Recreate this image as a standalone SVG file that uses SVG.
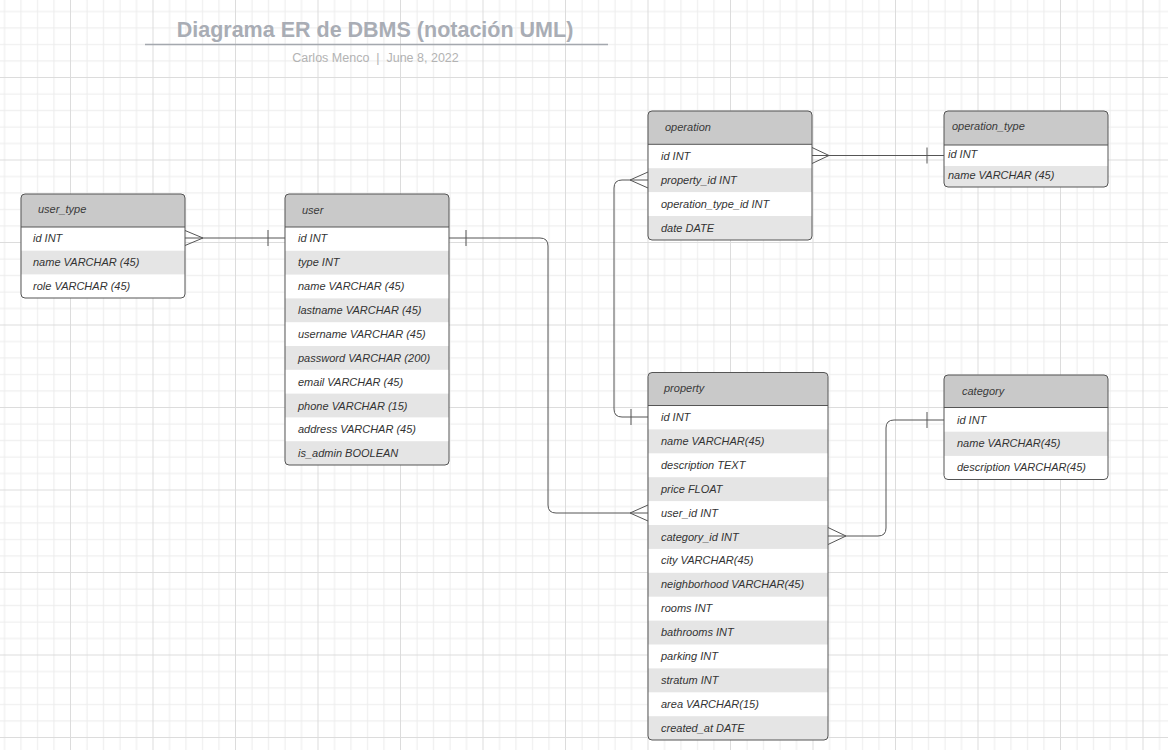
<svg xmlns="http://www.w3.org/2000/svg" width="1168" height="750" viewBox="0 0 1168 750">
<style>
.hdr{fill:#c9c9c9}
.sh{fill:#e5e5e5}
.box{fill:none;stroke:#555;stroke-width:1}
.hl{stroke:#555;stroke-width:1}
text{font-family:"Liberation Sans",Arial,sans-serif}
.t{font-size:11px;font-style:italic;fill:#333}
.h{font-size:11px;font-style:italic;fill:#3a3a3a}
.c{fill:none;stroke:#555;stroke-width:1}
</style>
<defs>
<pattern id="grid" patternUnits="userSpaceOnUse" x="70" y="77" width="82.5" height="82.5">
<rect x="16.5" y="0" width="1" height="82.5" fill="#ececec"/>
<rect x="33" y="0" width="1" height="82.5" fill="#ececec"/>
<rect x="49.5" y="0" width="1" height="82.5" fill="#ececec"/>
<rect x="66" y="0" width="1" height="82.5" fill="#ececec"/>
<rect x="0" y="16.5" width="82.5" height="1" fill="#ececec"/>
<rect x="0" y="33" width="82.5" height="1" fill="#ececec"/>
<rect x="0" y="49.5" width="82.5" height="1" fill="#ececec"/>
<rect x="0" y="66" width="82.5" height="1" fill="#ececec"/>
<rect x="0" y="0" width="1" height="82.5" fill="#dcdcdc"/>
<rect x="0" y="0" width="82.5" height="1" fill="#dcdcdc"/>
</pattern>
<clipPath id="cUT"><rect x="21" y="194" width="164" height="104" rx="4"/></clipPath>
<clipPath id="cU"><rect x="285" y="194" width="164" height="271" rx="4"/></clipPath>
<clipPath id="cO"><rect x="648" y="111" width="164" height="129" rx="4"/></clipPath>
<clipPath id="cOT"><rect x="944" y="111" width="164" height="76" rx="4"/></clipPath>
<clipPath id="cC"><rect x="944" y="375" width="164" height="104.5" rx="4"/></clipPath>
<clipPath id="cP"><rect x="648" y="372.5" width="180" height="367.5" rx="4"/></clipPath>
</defs>
<rect width="1168" height="750" fill="#fff"/>
<rect width="1168" height="750" fill="url(#grid)"/>

<g id="title">
<text x="375" y="37" text-anchor="middle" font-size="21.5" font-weight="bold" fill="#a9adb5">Diagrama ER de DBMS (notación UML)</text>
<line x1="145" y1="44.5" x2="608" y2="44.5" stroke="#a4a8ae" stroke-width="1.5"/>
<text x="375.5" y="62" text-anchor="middle" font-size="12.5" fill="#b3b3b3" style="white-space:pre" xml:space="preserve">Carlos Menco  |  June 8, 2022</text>
</g>

<g id="connectors">
<path class="c" d="M185,238 H285 M185,230.5 L203,238 L185,245.5 M268,230 V246"/>
<path class="c" d="M449,238 H540 Q548,238 548,246 V505 Q548,513 556,513 H648 M466,230 V246 M648,505 L630,513 L648,521"/>
<path class="c" d="M648,180 H622 Q614,180 614,188 V409 Q614,417 622,417 H648 M648,172 L630,180 L648,188 M631,409 V425"/>
<path class="c" d="M812,155.5 H944 M812,147.5 L829,155.5 L812,163.5 M927,147.5 V163.5"/>
<path class="c" d="M828,536 H878 Q886,536 886,528 V428 Q886,420 894,420 H944 M828,527.5 L846,536 L828,544.5 M927,412 V428"/>
</g>

<g id="user_type">
<g clip-path="url(#cUT)">
<rect x="21" y="194" width="164" height="104" fill="#fff"/>
<rect class="hdr" x="21" y="194" width="164" height="33"/>
<rect class="sh" x="21" y="250.7" width="164" height="23.7"/>
</g>
<line class="hl" x1="21" y1="227" x2="185" y2="227"/>
<rect class="box" x="21" y="194" width="164" height="104" rx="4"/>
<text class="h" x="38" y="213">user_type</text>
<text class="t" x="33" y="242">id INT</text>
<text class="t" x="33" y="266">name VARCHAR (45)</text>
<text class="t" x="33" y="290">role VARCHAR (45)</text>
</g>

<g id="user">
<g clip-path="url(#cU)">
<rect x="285" y="194" width="164" height="271" fill="#fff"/>
<rect class="hdr" x="285" y="194" width="164" height="33"/>
<rect class="sh" x="285" y="250.8" width="164" height="23.8"/>
<rect class="sh" x="285" y="298.4" width="164" height="23.8"/>
<rect class="sh" x="285" y="346" width="164" height="23.8"/>
<rect class="sh" x="285" y="393.6" width="164" height="23.8"/>
<rect class="sh" x="285" y="441.2" width="164" height="23.8"/>
</g>
<line class="hl" x1="285" y1="227" x2="449" y2="227"/>
<rect class="box" x="285" y="194" width="164" height="271" rx="4"/>
<text class="h" x="302" y="214">user</text>
<text class="t" x="298" y="242">id INT</text>
<text class="t" x="298" y="266">type INT</text>
<text class="t" x="298" y="290">name VARCHAR (45)</text>
<text class="t" x="298" y="314">lastname VARCHAR (45)</text>
<text class="t" x="298" y="338">username VARCHAR (45)</text>
<text class="t" x="298" y="362">password VARCHAR (200)</text>
<text class="t" x="298" y="386">email VARCHAR (45)</text>
<text class="t" x="298" y="410">phone VARCHAR (15)</text>
<text class="t" x="298" y="433">address VARCHAR (45)</text>
<text class="t" x="298" y="457">is_admin BOOLEAN</text>
</g>

<g id="operation">
<g clip-path="url(#cO)">
<rect x="648" y="111" width="164" height="129" fill="#fff"/>
<rect class="hdr" x="648" y="111" width="164" height="33.3"/>
<rect class="sh" x="648" y="168.2" width="164" height="23.9"/>
<rect class="sh" x="648" y="216" width="164" height="24"/>
</g>
<line class="hl" x1="648" y1="144.3" x2="812" y2="144.3"/>
<rect class="box" x="648" y="111" width="164" height="129" rx="4"/>
<text class="h" x="665" y="131">operation</text>
<text class="t" x="661" y="160">id INT</text>
<text class="t" x="661" y="184">property_id INT</text>
<text class="t" x="661" y="208">operation_type_id INT</text>
<text class="t" x="661" y="232">date DATE</text>
</g>

<g id="operation_type">
<g clip-path="url(#cOT)">
<rect x="944" y="111" width="164" height="76" fill="#fff"/>
<rect class="hdr" x="944" y="111" width="164" height="34"/>
<rect class="sh" x="944" y="166" width="164" height="21"/>
</g>
<line class="hl" x1="944" y1="145" x2="1108" y2="145"/>
<rect class="box" x="944" y="111" width="164" height="76" rx="4"/>
<text class="h" x="952" y="130">operation_type</text>
<text class="t" x="948" y="158">id INT</text>
<text class="t" x="948" y="179">name VARCHAR (45)</text>
</g>

<g id="category">
<g clip-path="url(#cC)">
<rect x="944" y="375" width="164" height="104.5" fill="#fff"/>
<rect class="hdr" x="944" y="375" width="164" height="32.5"/>
<rect class="sh" x="944" y="431.7" width="164" height="24.2"/>
</g>
<line class="hl" x1="944" y1="407.5" x2="1108" y2="407.5"/>
<rect class="box" x="944" y="375" width="164" height="104.5" rx="4"/>
<text class="h" x="962" y="395">category</text>
<text class="t" x="957" y="424">id INT</text>
<text class="t" x="957" y="447">name VARCHAR(45)</text>
<text class="t" x="957" y="471">description VARCHAR(45)</text>
</g>

<g id="property">
<g clip-path="url(#cP)">
<rect x="648" y="372.5" width="180" height="367.5" fill="#fff"/>
<rect class="hdr" x="648" y="372.5" width="180" height="33"/>
<rect class="sh" x="648" y="429.4" width="180" height="23.9"/>
<rect class="sh" x="648" y="477.2" width="180" height="23.9"/>
<rect class="sh" x="648" y="525" width="180" height="23.9"/>
<rect class="sh" x="648" y="572.8" width="180" height="23.9"/>
<rect class="sh" x="648" y="620.6" width="180" height="23.9"/>
<rect class="sh" x="648" y="668.4" width="180" height="23.9"/>
<rect class="sh" x="648" y="716.2" width="180" height="23.9"/>
</g>
<line class="hl" x1="648" y1="405.5" x2="828" y2="405.5"/>
<rect class="box" x="648" y="372.5" width="180" height="367.5" rx="4"/>
<text class="h" x="664" y="392">property</text>
<text class="t" x="661" y="421">id INT</text>
<text class="t" x="661" y="445">name VARCHAR(45)</text>
<text class="t" x="661" y="469">description TEXT</text>
<text class="t" x="661" y="493">price FLOAT</text>
<text class="t" x="661" y="517">user_id INT</text>
<text class="t" x="661" y="541">category_id INT</text>
<text class="t" x="661" y="564">city VARCHAR(45)</text>
<text class="t" x="661" y="588">neighborhood VARCHAR(45)</text>
<text class="t" x="661" y="612">rooms INT</text>
<text class="t" x="661" y="636">bathrooms INT</text>
<text class="t" x="661" y="660">parking INT</text>
<text class="t" x="661" y="684">stratum INT</text>
<text class="t" x="661" y="708">area VARCHAR(15)</text>
<text class="t" x="661" y="732">created_at DATE</text>
</g>
</svg>
